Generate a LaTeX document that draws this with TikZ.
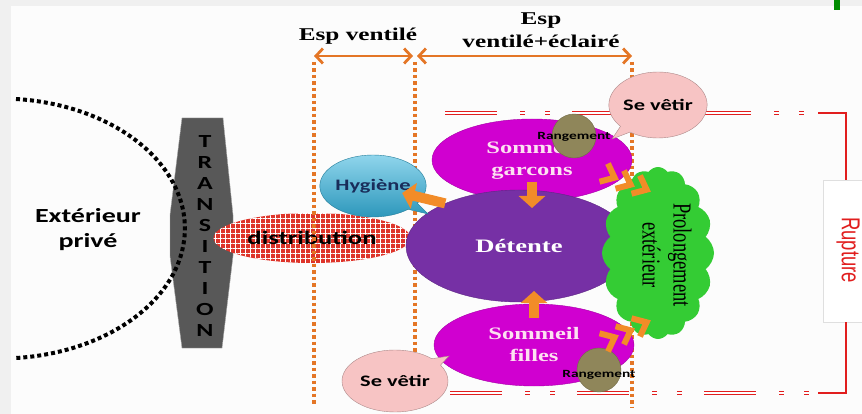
\documentclass[tikz,border=0pt]{standalone}
\usepackage{fontspec}
\setmainfont{Liberation Serif}
\newfontfamily\calib{Carlito}
\newfontfamily\arialf{Liberation Sans}
\usetikzlibrary{shapes.geometric,shapes.callouts,shapes.symbols,patterns.meta,arrows.meta}

\definecolor{espOrange}{RGB}{228,118,38}
\definecolor{arrOrange}{RGB}{242,140,40}
\definecolor{somMag}{RGB}{208,0,208}
\definecolor{detPurple}{RGB}{118,48,165}
\definecolor{hygBlue}{RGB}{52,178,220}
\definecolor{hygText}{RGB}{25,45,90}
\definecolor{vetPink}{RGB}{247,196,196}
\definecolor{rangOlive}{RGB}{143,134,90}
\definecolor{prolGreen}{RGB}{52,204,52}
\definecolor{ruptRed}{RGB}{225,30,30}
\definecolor{tranGray}{RGB}{88,88,88}
\definecolor{distRed}{RGB}{222,52,42}

\newcommand{\wide}[1]{\scalebox{1.4}[1]{#1}}
\newcommand{\tall}[1]{\scalebox{1}[1.4]{#1}}

\tikzset{
  dimline/.style={espOrange, line width=3.5pt, dash pattern=on 3.5pt off 3pt},
  esparrow/.style={espOrange, line width=2.8pt,
    {Straight Barb[length=7pt,width=15pt]}-{Straight Barb[length=7pt,width=15pt]}},
  bigarrow/.style={arrOrange, line width=10pt, -{Triangle[length=12pt,width=26pt]}},
  chev/.style={arrOrange, line width=6pt, line join=miter},
  extdots/.style={black, line width=4pt, dash pattern=on 4pt off 3pt},
  esplabel/.style={font=\bfseries\fontsize{18}{23}\selectfont, align=center},
  sommeil/.style={ellipse, fill=somMag, draw=somMag!80!black, minimum width=200pt,
    minimum height=82pt, text=magenta!12!white, align=center,
    font=\bfseries\fontsize{17.5}{22}\selectfont},
  rangement/.style={circle, fill=rangOlive, draw=rangOlive!80!black, minimum size=44pt},
  rangtext/.style={font=\calib\bfseries\fontsize{11}{11}\selectfont},
  vetir/.style={ellipse callout, fill=vetPink, draw=vetPink!70!black,
    font=\calib\bfseries\fontsize{16}{16}\selectfont},
  ruptline/.style={ruptRed, line width=1.3pt, double=white, double distance=1.6pt,
    dash pattern=on 52pt off 23pt on 5pt off 20pt on 5pt off 22pt},
}

\begin{document}
\begin{tikzpicture}[x=1pt, y=-1pt, every node/.style={inner sep=0pt}]
  \useasboundingbox (0,0) rectangle (862,414);

  % background
  \fill[gray!12] (0,0) rectangle (862,414);
  \fill[white!98!gray] (11,6) rectangle (862,414);
  \fill[green!55!black] (834,0) rectangle (840,10);

  % transition
  \draw[fill=tranGray, draw=gray!70] (182,118) -- (223,118) -- (233,215) -- (233,256)
    -- (222,348) -- (182,348) -- (170,256) -- (170,215) -- cycle;
  \foreach \ch [count=\i] in {T,R,A,N,S,I,T,I,O,N}
    \node[font=\calib\bfseries\fontsize{18.5}{18.5}\selectfont] (tr\i) at (205,121.1+20.9*\i) {\wide{\ch}};

  % exterieur
  \draw[extdots] (16,99) arc[start angle=-85, end angle=85, x radius=185, y radius=130];
  \node[font=\calib\bfseries\fontsize{20}{25}\selectfont, align=center] (ext) at (88,230)
    {\wide{Extérieur}\\\wide{privé}};

  % distribution
  \node[ellipse, minimum width=197pt, minimum height=50pt, preaction={fill=distRed},
    pattern={Hatch[angle=0,distance=5pt,line width=1pt]}, pattern color=white,
    font=\calib\bfseries\fontsize{19}{19}\selectfont] (dist) at (312,238) {\wide{distribution}};

  % spaces
  \coordinate (d1t) at (314,62);  \coordinate (d1b) at (314,404);
  \coordinate (d2t) at (415,62);  \coordinate (d2b) at (415,398);
  \coordinate (d3t) at (632,62);  \coordinate (d3b) at (632,408);
  \draw[dimline] (d1t) -- (d1b);
  \draw[dimline] (d2t) -- (d2b);
  \draw[dimline] (d3t) -- (d3b);
  \draw[esparrow, shorten >=2pt] ([yshift=6pt]d1t) -- ([yshift=6pt]d2t);
  \draw[esparrow, shorten <=2pt] ([yshift=6pt]d2t) -- ([yshift=6pt]d3t);
  \node[esplabel] (esp1) at (358,36) {\wide{Esp ventilé}};
  \node[esplabel] (esp2) at (541,30) {\wide{Esp}\\\wide{ventilé+éclairé}};

  % rupture
  \draw[ruptline] (445,113) -- (818,113);
  \draw[ruptline] (450,393) -- (818,393);
  \node[rectangle, fill=white, draw=gray!25, minimum width=40pt, minimum height=142pt]
    (rupt) at (843,251) {};
  \draw[ruptRed, line width=2pt] (818,113) -- (846,113) -- (846,180);
  \draw[ruptRed, line width=2pt] (846,322) -- (846,393) -- (818,393);
  \node[rotate=-90, text=ruptRed, font=\arialf\fontsize{18.5}{18.5}\selectfont]
    (rupttext) at (848,250) {\tall{Rupture}};

  % rooms
  \node[sommeil] (sg) at (532,160) {\wide{Sommeil}\\\wide{garcons}};
  \node[sommeil] (sf) at (534,345) {\wide{Sommeil}\\\wide{filles}};
  \node[ellipse, fill=detPurple, draw=detPurple!80!black, minimum width=226pt, minimum height=112pt,
    text=white, font=\bfseries\fontsize{19}{19}\selectfont] (det) at (519,246) {\wide{Détente}};
  \coordinate (hygtip) at (428,214);
  \node[ellipse callout, callout absolute pointer={(hygtip)}, minimum width=100pt,
    minimum height=62pt, top color=hygBlue!55!white, bottom color=hygBlue!85!black,
    draw=hygBlue!70!black, text=hygText, font=\calib\bfseries\fontsize{16}{16}\selectfont]
    (hyg) at (373,186) {\wide{Hygiène}};

  % rangement
  \node[rangement] (rg1) at (574,136) {};
  \node[rangtext] at ([yshift=-1pt]rg1.center) {\wide{Rangement}};
  \node[rangement] (rg2) at (599,370) {};
  \node[rangtext] at ([yshift=-5pt]rg2.center) {\wide{Rangement}};

  % se vetir
  \coordinate (vet1tip) at (612,139);
  \coordinate (vet2tip) at (449,356);
  \node[vetir, callout absolute pointer={(vet1tip)}, minimum width=97pt, minimum height=66pt]
    (vet1) at (658,105) {\wide{Se vêtir}};
  \node[vetir, callout absolute pointer={(vet2tip)}, minimum width=106pt, minimum height=62pt]
    (vet2) at (395,381) {\wide{Se vêtir}};

  % prolongement
  \node[cloud, cloud puffs=16, cloud puff arc=110, cloud ignores aspect, fill=prolGreen,
    minimum width=112pt, minimum height=172pt] (prol) at (658,253) {};
  \node[rotate=-90, align=center, font=\fontsize{18.5}{31}\selectfont] (proltext) at (667,255)
    {\tall{Prolongement}\\\tall{extérieur}};

  % arrows
  \draw[bigarrow, shorten >=30pt] (det.150) -- (hyg.center);
  \draw[bigarrow] ([yshift=-22pt]sg.center) -- ([yshift=-48pt]sg.center);
  \draw[bigarrow] ([yshift=27pt]sf.center) -- ([yshift=54pt]sf.center);
  \foreach \p in {(611,176),(627,183),(643,188)}
    \draw[chev, shift={\p}, rotate=-25] (-8,-10) -- (4,0) -- (-8,10);
  \foreach \p in {(611,339),(627,332),(643,324)}
    \draw[chev, shift={\p}, rotate=25] (-8,-10) -- (4,0) -- (-8,10);
\end{tikzpicture}
\end{document}
